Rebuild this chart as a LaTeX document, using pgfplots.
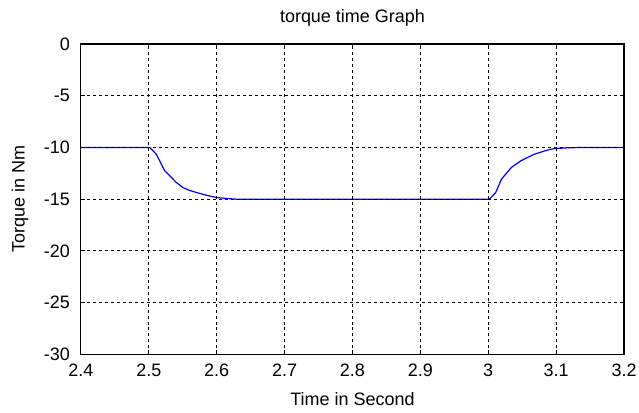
\documentclass[border=0pt]{standalone}
\usepackage{fontspec}
\setmainfont{Liberation Sans}
\usepackage{pgfplots}
\pgfplotsset{compat=1.18}

\begin{document}
\begin{tikzpicture}
\useasboundingbox (-40.5pt,-29pt) rectangle (279.5pt,177.5pt);
\begin{axis}[
  scale only axis,
  width=272pt, height=155.5pt,
  xmin=2.4, xmax=3.2, ymin=-30, ymax=0,
  xtick={2.4,2.5,2.6,2.7,2.8,2.9,3,3.1,3.2},
  xticklabels={2.4,2.5,2.6,2.7,2.8,2.9,3,3.1,3.2},
  ytick={-30,-25,-20,-15,-10,-5,0},
  yticklabels={-30,-25,-20,-15,-10,-5,0},
  font=\fontsize{9}{10}\selectfont,
  tick align=inside,
  major tick length=2pt,
  tick style={black, line width=0.5pt},
  axis line style={black, line width=0.6pt},
  grid=major,
  major grid style={black, line width=0.5pt, dash pattern=on 1.5pt off 1.5pt},
  axis on top,
  title={torque time Graph},
  every axis title/.style={at={(axis description cs:0.5,1.0836)}, anchor=center},
  xlabel={Time in Second},
  every axis x label/.style={at={(axis description cs:0.5,-0.1447)}, anchor=center},
  ylabel={Torque in Nm},
  every axis y label/.style={at={(axis description cs:-0.1121,0.5)}, anchor=center, rotate=90},
  xticklabel style={anchor=north, yshift=-1pt},
  yticklabel style={anchor=east, xshift=-2pt},
]
\addplot[color={rgb,255:red,0;green,0;blue,255}, line width=0.6pt] coordinates {
  (2.4,-10) (2.5,-10) (2.5015,-10) (2.511,-10.65) (2.5235,-12.26) (2.531,-12.74)
  (2.540,-13.35) (2.550,-13.87) (2.560,-14.15) (2.570,-14.35) (2.585,-14.62)
  (2.5995,-14.84) (2.615,-14.93) (2.629,-15) (3.0,-15) (3.0015,-15)
  (3.011,-14.35) (3.0195,-13.06) (3.034,-11.94) (3.048,-11.29) (3.068,-10.65)
  (3.087,-10.26) (3.098,-10.1) (3.12,-10.03) (3.141,-10) (3.2,-10)
};
\end{axis}
\end{tikzpicture}
\end{document}
